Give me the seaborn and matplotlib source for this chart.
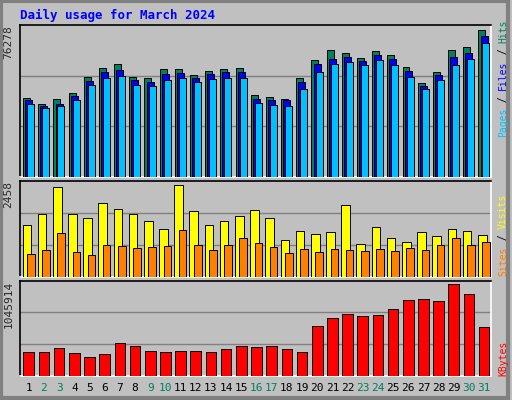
import numpy as np
import pandas as pd
import seaborn as sns
import matplotlib
matplotlib.use("Agg")
import matplotlib.pyplot as plt

days = list(range(1, 32))
hits = [41200, 38100, 40700, 43700, 51900, 56400, 58500, 51900, 51400, 55900, 55900, 52900, 54900, 55900, 56400, 42700,
        41700, 40700, 51400, 60500, 66100, 64100, 61500, 65600, 63100, 57000, 48800, 54400, 66100, 67600, 76278]
files = [39700, 36600, 38100, 42200, 49900, 54400, 55400, 50400, 49400, 53400, 53900, 51400, 53400, 54400, 54400, 40700,
         40200, 39700, 49400, 58500, 61000, 62500, 60000, 63500, 61000, 55000, 47300, 52900, 62500, 64600, 73200]
pages = [38100, 35600, 36600, 40200, 47800, 51400, 52400, 47800, 47300, 50400, 51400, 49400, 50900, 51400, 51400, 38600,
         37600, 37100, 45700, 54400, 58500, 59500, 58000, 60500, 58000, 51900, 45700, 50400, 58000, 61000, 69700]
visits = [1371, 1664, 2385, 1664, 1558, 1958, 1798, 1664, 1477, 1264, 2458, 1744, 1371, 1477, 1611, 1771,
          1558, 970, 1210, 1130, 1184, 1905, 863, 1317, 1024, 917, 1184, 1077, 1264, 1210, 1104]
sites = [596, 703, 1157, 650, 570, 837, 810, 757, 783, 810, 1237, 837, 703, 837, 1024, 890,
         783, 623, 730, 650, 730, 703, 676, 730, 676, 757, 703, 837, 1024, 837, 917]
kbytes = [267200, 267200, 313000, 255700, 209900, 244300, 370200, 335900, 278600, 267200, 278600, 278600, 267200,
          301500, 335900, 324400, 335900, 301500, 267200, 564900, 656500, 702300, 679400, 690900, 759600, 862600,
          874100, 851200, 1045914, 931300, 553400]
weekend = {2, 3, 9, 10, 16, 17, 23, 24, 30, 31}

sns.set_style("white")
plt.rcParams['font.family'] = ['DejaVu Sans Mono', 'DejaVu Sans']
BG = "#C0C0C0"
fig = plt.figure(figsize=(5.12, 4.0), dpi=100, facecolor=BG)
fig.text(20/512, 1-15/400, "Daily usage for March 2024", color="#0000FF", fontsize=9, fontweight="bold", va="center")
fig.add_artist(plt.Rectangle((0.002, 0.004), 0.99, 0.993, transform=fig.transFigure, fill=False,
                             edgecolor="#808080", lw=3))

d = np.array(days, dtype=float)
L, W = 20/512, 471/512
axes = [fig.add_axes([L, 1-177/400, W, 152/400]),
        fig.add_axes([L, 1-276.7/400, W, 96/400]),
        fig.add_axes([L, 1-375.7/400, W, 95/400])]

def bars(ax, xs, vals, color, width):
    df = pd.DataFrame({"x": xs, "y": vals})
    sns.barplot(data=df, x="x", y="y", native_scale=True, width=width, color=color,
                edgecolor="black", linewidth=0.7, saturation=1, ax=ax, zorder=3)

bars(axes[0], d - 0.15, hits, "#00805C", 0.46)
bars(axes[0], d - 0.01, files, "#0000FF", 0.46)
bars(axes[0], d + 0.12, pages, "#00C0FF", 0.46)
bars(axes[1], d - 0.13, visits, "#FFFF00", 0.57)
bars(axes[1], d + 0.13, sites, "#FF8000", 0.5)
bars(axes[2], d, kbytes, "#FF0000", 0.7)

tops = [76278*152/147, 2458*96/92, 1045914*95/91.3]
maxlab = ["76278", "2458", "1045914"]
for ax, top, lab in zip(axes, tops, maxlab):
    ax.set_facecolor(BG)
    ax.set_xlim(0.42, 31.45)
    ax.set_ylim(0, top)
    for g in (top/3, 2*top/3):
        ax.axhline(g, color="#808080", lw=1, zorder=1)
    ax.set_xticks([]); ax.set_yticks([])
    ax.set_xlabel(""); ax.set_ylabel("")
    for s in ("top", "left"):
        ax.spines[s].set_color("black"); ax.spines[s].set_linewidth(1.2)
    for s in ("bottom", "right"):
        ax.spines[s].set_color("white"); ax.spines[s].set_linewidth(1.2)
    ax.text(-0.025, 1.0, lab, transform=ax.transAxes, rotation=90, ha="center", va="top", fontsize=8)

CH = 5.9  # px per char at 7pt mono

def side(parts, ybot_px):
    y = ybot_px
    for txt, col in parts:
        fig.text(503/512, 1 - y/400, txt, rotation=90, ha="center", va="bottom", fontsize=7, color=col)
        y -= len(txt) * CH

side([("Pages", "#00C0FF"), (" / ", "#000000"), ("Files", "#0000FF"), (" / ", "#000000"), ("Hits", "#00805C")], 137)
side([("Sites", "#FF8000"), (" / ", "#000000"), ("Visits", "#FFFF00")], 276)
side([("KBytes", "#FF0000")], 376)

for dd in days:
    axes[2].text(dd, -0.13, str(dd), transform=axes[2].get_xaxis_transform(), ha="center", va="center",
                 fontsize=8, color="#00805C" if dd in weekend else "black")

fig.savefig("out.png", dpi=100, facecolor=BG)
